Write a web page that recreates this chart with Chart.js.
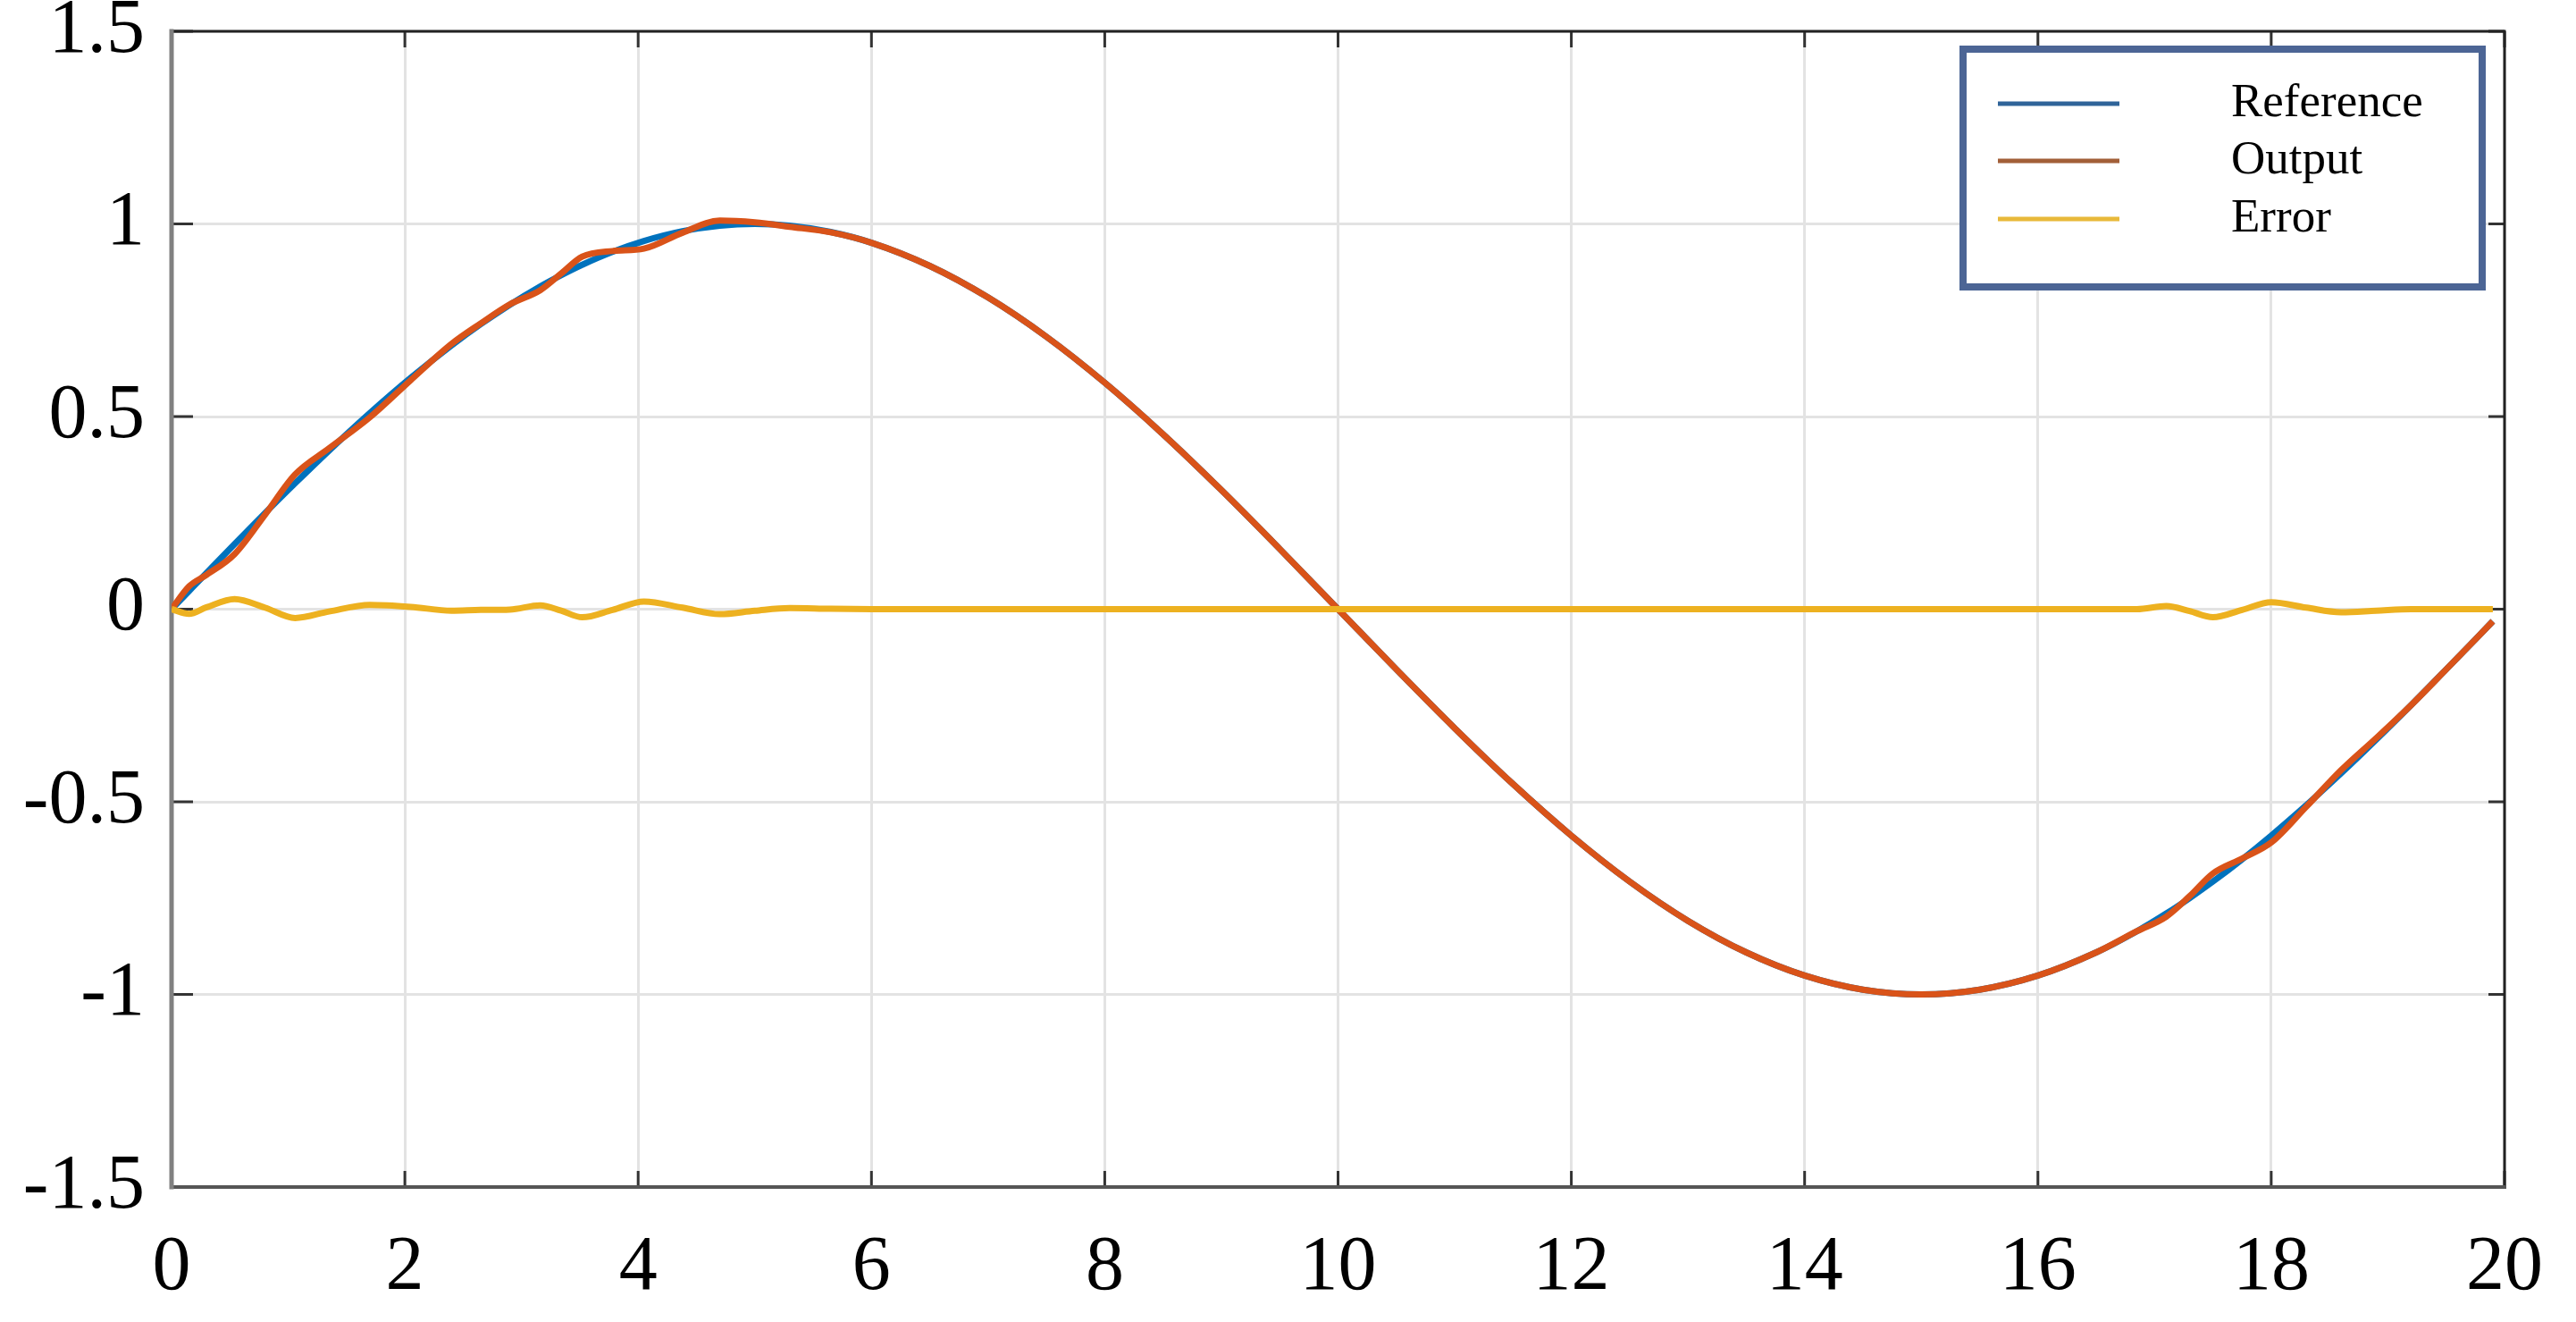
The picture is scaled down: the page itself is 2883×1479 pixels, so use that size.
<!DOCTYPE html>
<html>
<head>
<meta charset="utf-8">
<script src="https://cdn.jsdelivr.net/npm/chart.js@4.4.1/dist/chart.umd.min.js"></script>
<style>
  html, body { margin: 0; padding: 0; background: #fff; }
  #chart { display: block; }
</style>
</head>
<body>
<canvas id="chart" width="2883" height="1479"></canvas>
<script>
// time samples (s), denser where the output wiggles
const times = [
  0, 0.15, 0.3, 0.54, 0.8, 1.06, 1.35, 1.7, 2.05, 2.4, 2.65, 2.9, 3.16, 3.34, 3.52, 3.78, 4.05, 4.38, 4.7, 5.0, 5.3, 5.65, 6.0,
  6.5, 7, 7.5, 8, 8.5, 9, 9.5, 10, 10.5, 11, 11.5, 12, 12.5, 13, 13.5, 14, 14.5, 15, 15.5, 16,
  16.5, 16.85, 17.1, 17.3, 17.5, 17.75, 18.0, 18.3, 18.6, 18.9, 19.2, 19.5, 19.75, 19.9
]

const reference = [
  0, 0.0471, 0.0941, 0.1688, 0.2487, 0.3269, 0.4115, 0.5090, 0.6004, 0.6845, 0.7396, 0.7902, 0.8377, 0.8671, 0.8939, 0.9275, 0.9558, 0.9811, 0.9956, 1.0, 0.9956, 0.9792, 0.9511,
  0.8910, 0.8090, 0.7071, 0.5878, 0.4540, 0.3090, 0.1564, 0, -0.1564, -0.3090, -0.4540, -0.5878, -0.7071, -0.8090, -0.8910, -0.9511, -0.9877, -1.0, -0.9877, -0.9511,
  -0.8910, -0.8358, -0.7902, -0.7501, -0.7071, -0.6494, -0.5878, -0.5090, -0.4258, -0.3387, -0.2487, -0.1564, -0.0785, -0.0314
]

const output = [
  0, 0.0591, 0.0891, 0.1428, 0.2447, 0.3499, 0.4175, 0.4980, 0.5944, 0.6885, 0.7416, 0.7912, 0.8277, 0.8711, 0.9149, 0.9295, 0.9358, 0.9771, 1.0086, 1.0040, 0.9926, 0.9782, 0.9511,
  0.8910, 0.8090, 0.7071, 0.5878, 0.4540, 0.3090, 0.1564, 0, -0.1564, -0.3090, -0.4540, -0.5878, -0.7071, -0.8090, -0.8910, -0.9511, -0.9877, -1.0, -0.9877, -0.9511,
  -0.8910, -0.8358, -0.7982, -0.7451, -0.6861, -0.6474, -0.6058, -0.5130, -0.4178, -0.3347, -0.2487, -0.1564, -0.0785, -0.0314
]

const error = [
  0, -0.012, 0.005, 0.026, 0.004, -0.023, -0.006, 0.011, 0.006, -0.004, -0.002, -0.001, 0.010, -0.004, -0.021, -0.002, 0.020, 0.004, -0.013, -0.004, 0.003, 0.001, 0,
  0, 0, 0, 0, 0, 0, 0, 0, 0, 0, 0, 0, 0, 0, 0, 0, 0, 0, 0, 0,
  0, 0, 0.008, -0.005, -0.021, -0.002, 0.018, 0.004, -0.008, -0.004, 0, 0, 0, 0
]

const xTicks = [0, 2, 4, 6, 8, 10, 12, 14, 16, 18, 20]
const yTicks = [-1.5, -1, -0.5, 0, 0.5, 1, 1.5]
const seriesNames = ['Reference', 'Output', 'Error']
const lineColors = ['#0072bd', '#d95319', '#edb120']
const legendColors = ['#2f6499', '#a25f38', '#e8b93a']

const toPoints = ys => times.map((t, i) => ({ x: t, y: ys[i] }))

// axes frame + inward tick marks
const framePlugin = {
  id: 'frame',
  beforeDatasetsDraw(chart) {
    const { ctx, chartArea: a, scales } = chart
    ctx.save()
    ctx.strokeStyle = '#333'
    ctx.lineWidth = 3
    xTicks.forEach(v => {
      const px = scales.x.getPixelForValue(v)
      ctx.beginPath(); ctx.moveTo(px, a.bottom); ctx.lineTo(px, a.bottom - 18); ctx.stroke()
      ctx.beginPath(); ctx.moveTo(px, a.top); ctx.lineTo(px, a.top + 18); ctx.stroke()
    })
    yTicks.forEach(v => {
      const py = scales.y.getPixelForValue(v)
      ctx.beginPath(); ctx.moveTo(a.left, py); ctx.lineTo(a.left + 24, py); ctx.stroke()
      ctx.beginPath(); ctx.moveTo(a.right, py); ctx.lineTo(a.right - 18, py); ctx.stroke()
    })
    ctx.lineCap = 'square'
    ctx.strokeStyle = '#222'
    ctx.lineWidth = 3
    ctx.beginPath(); ctx.moveTo(a.left, a.top); ctx.lineTo(a.right, a.top); ctx.lineTo(a.right, a.bottom); ctx.stroke()
    ctx.strokeStyle = '#555'
    ctx.lineWidth = 4
    ctx.beginPath(); ctx.moveTo(a.left, a.bottom); ctx.lineTo(a.right, a.bottom); ctx.stroke()
    ctx.strokeStyle = '#808080'
    ctx.lineWidth = 5
    ctx.beginPath(); ctx.moveTo(a.left, a.top); ctx.lineTo(a.left, a.bottom); ctx.stroke()
    ctx.restore()
  }
}

// boxed legend in the upper right
const legendBox = {
  id: 'legendBox',
  afterDraw(chart) {
    const { ctx } = chart
    ctx.save()
    ctx.fillStyle = '#fff'
    ctx.fillRect(2193, 51, 589, 274)
    ctx.strokeStyle = '#4c6595'
    ctx.lineWidth = 8
    ctx.strokeRect(2197, 55, 581, 266)
    const rows = [116, 180, 245]
    seriesNames.forEach((name, i) => {
      ctx.strokeStyle = legendColors[i]
      ctx.lineWidth = 5
      ctx.beginPath(); ctx.moveTo(2236, rows[i]); ctx.lineTo(2372, rows[i]); ctx.stroke()
      ctx.fillStyle = '#000'
      ctx.font = '53px "Liberation Serif", serif'
      ctx.textBaseline = 'middle'
      ctx.fillText(name, 2497, rows[i])
    })
    ctx.restore()
  }
}

const tickFont = { family: '"Liberation Serif", "Times New Roman", serif', size: 86 }

new Chart(document.getElementById('chart'), {
  type: 'line',
  data: {
    datasets: [
      { label: seriesNames[0], data: toPoints(reference), borderColor: lineColors[0], order: 2 },
      { label: seriesNames[1], data: toPoints(output), borderColor: lineColors[1], order: 1 },
      { label: seriesNames[2], data: toPoints(error), borderColor: lineColors[2], order: 0 }
    ]
  },
  options: {
    responsive: false,
    animation: false,
    devicePixelRatio: 1,
    layout: { padding: { top: 35, right: 80, left: 0, bottom: 0 } },
    elements: {
      line: { borderWidth: 7, cubicInterpolationMode: 'monotone', fill: false },
      point: { radius: 0 }
    },
    plugins: { legend: { display: false }, tooltip: { enabled: false } },
    scales: {
      x: {
        type: 'linear',
        min: 0,
        max: 20,
        afterBuildTicks: s => { s.ticks = xTicks.map(v => ({ value: v })) },
        afterFit: s => { s.height = 151; s.paddingLeft = 0; s.paddingRight = 0 },
        grid: { color: '#e3e3e3', lineWidth: 3, drawTicks: false },
        border: { display: false },
        ticks: { font: tickFont, color: '#000', padding: 40, maxRotation: 0, callback: v => String(v) }
      },
      y: {
        type: 'linear',
        min: -1.5,
        max: 1.5,
        afterBuildTicks: s => { s.ticks = yTicks.map(v => ({ value: v })) },
        afterFit: s => { s.width = 192; s.paddingTop = 0; s.paddingBottom = 0 },
        grid: { color: '#e3e3e3', lineWidth: 3, drawTicks: false },
        border: { display: false },
        ticks: { font: tickFont, color: '#000', padding: 30, callback: v => String(v) }
      }
    }
  },
  plugins: [framePlugin, legendBox]
})
</script>
</body>
</html>
